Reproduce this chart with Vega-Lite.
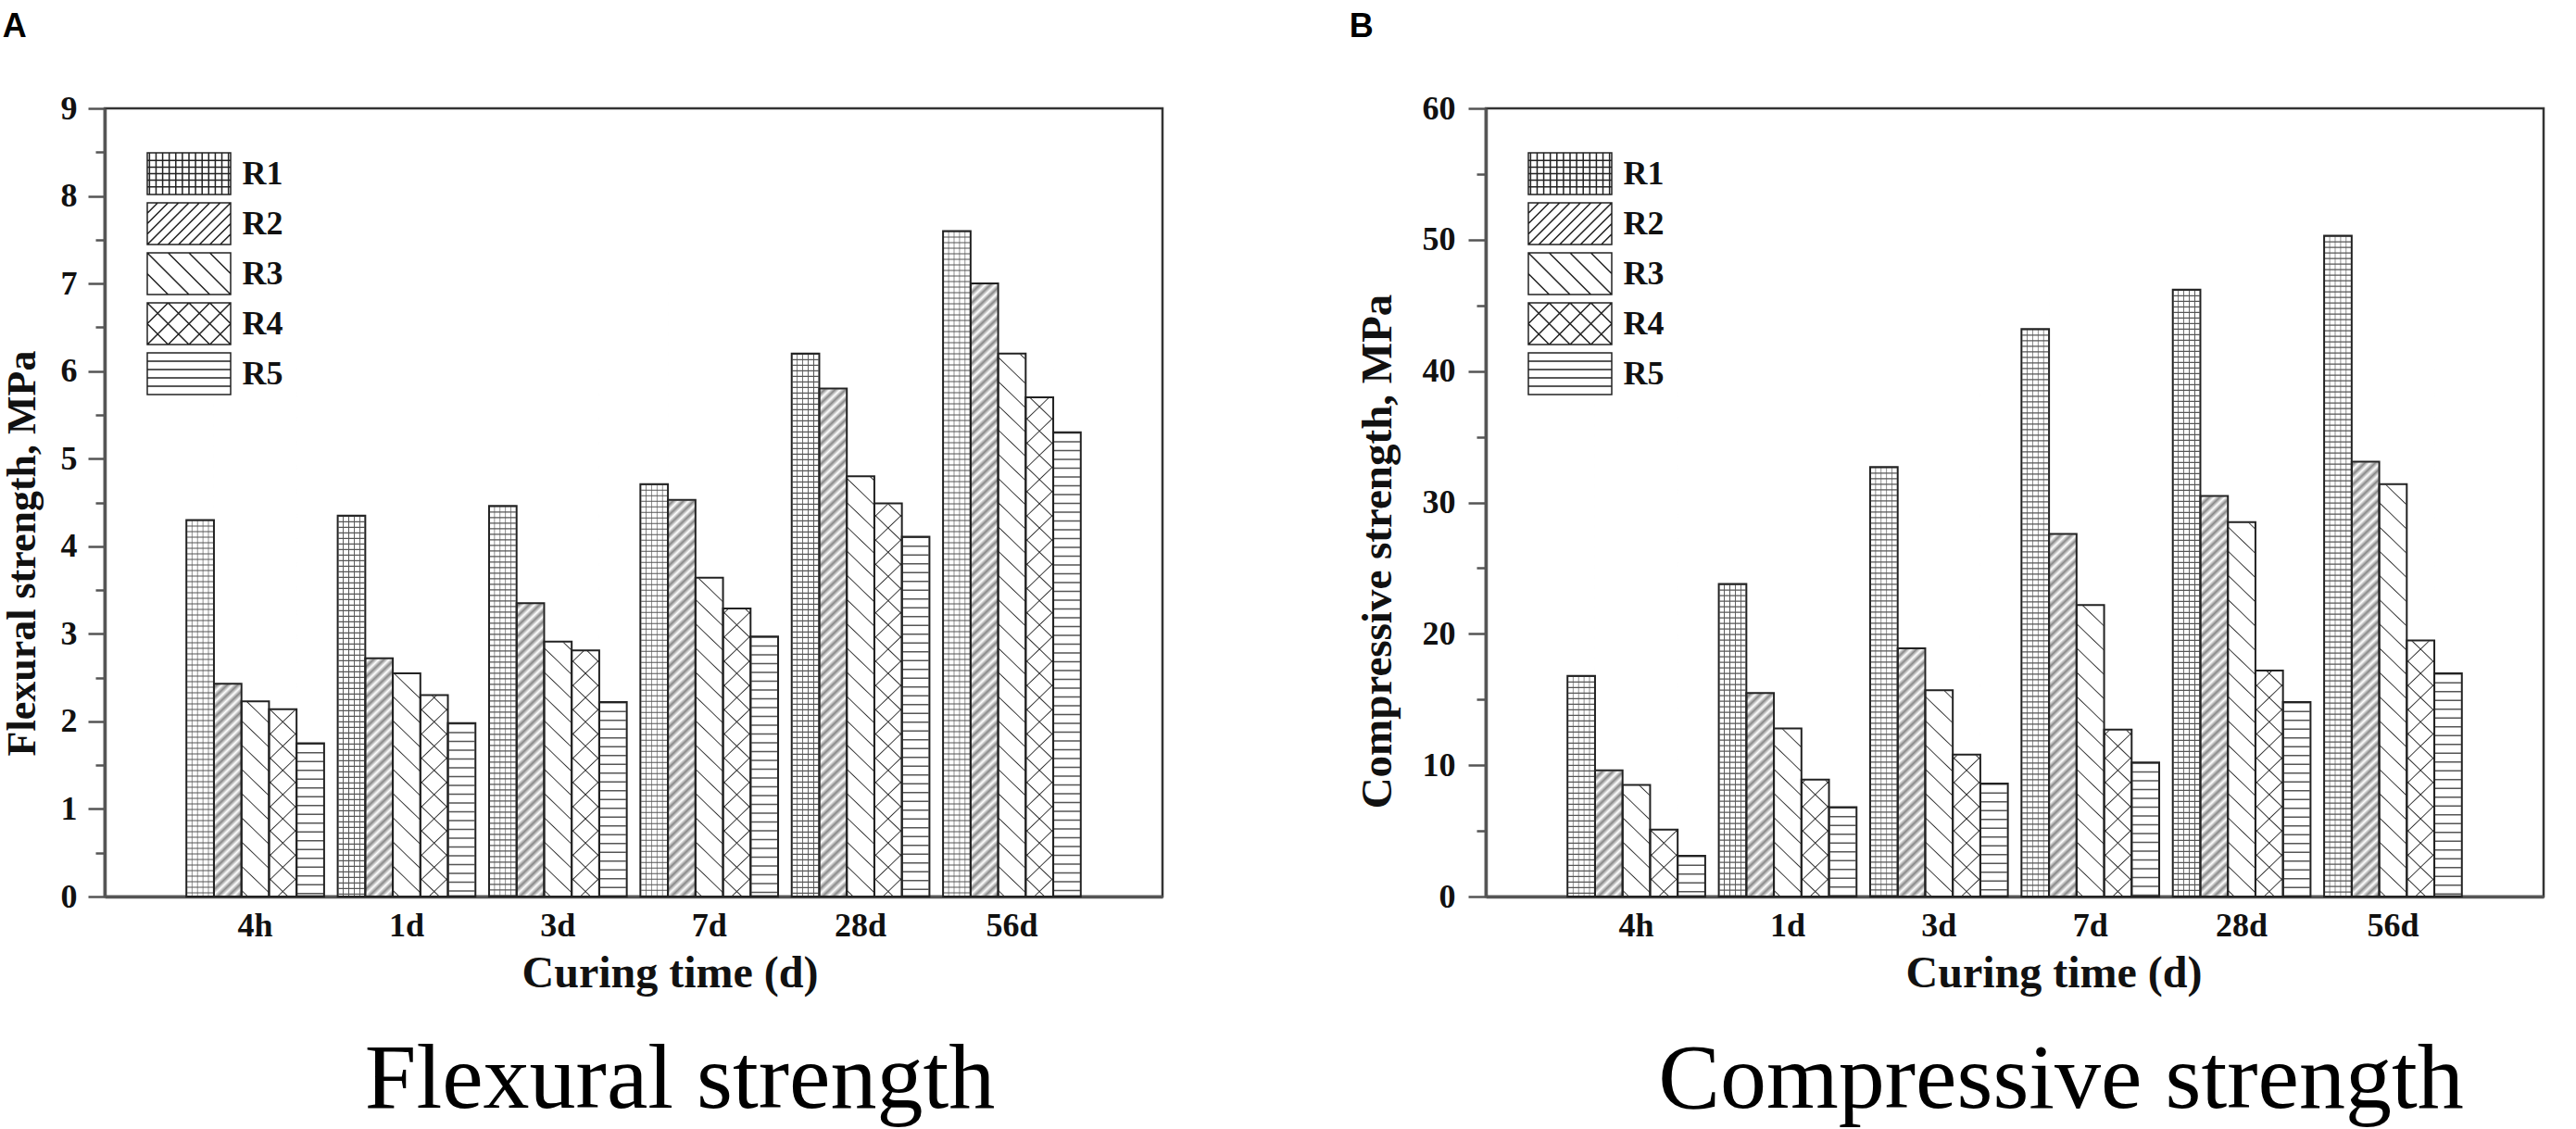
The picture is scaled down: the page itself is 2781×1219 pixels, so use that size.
{
  "$schema": "https://vega.github.io/schema/vega-lite/v6.json",
  "background": "white",
  "padding": {"left": 0, "top": 10, "right": 0, "bottom": 0},
  "config": {
    "font": "Liberation Serif",
    "view": {"stroke": "#333", "strokeWidth": 2.5},
    "axis": {
      "zindex": 1, "grid": false,
      "labelFont": "Liberation Serif", "labelFontWeight": "bold", "labelFontSize": 36, "labelColor": "#111",
      "titleFont": "Liberation Serif", "titleFontWeight": "bold", "titleFontSize": 44, "titleColor": "#111",
      "domainColor": "#555", "domainWidth": 3.5, "tickColor": "#555", "tickWidth": 2.5
    },
    "style": {
      "p1": {"color": {"gradient": "linear", "x1": 0, "y1": 0, "x2": 1, "y2": 0, "stops": [
        {"offset": 0.175, "color": "#fff"}, {"offset": 0.2, "color": "#555"}, {"offset": 0.225, "color": "#fff"},
        {"offset": 0.375, "color": "#fff"}, {"offset": 0.4, "color": "#555"}, {"offset": 0.425, "color": "#fff"},
        {"offset": 0.575, "color": "#fff"}, {"offset": 0.6, "color": "#555"}, {"offset": 0.625, "color": "#fff"},
        {"offset": 0.775, "color": "#fff"}, {"offset": 0.8, "color": "#555"}, {"offset": 0.825, "color": "#fff"}]}},
      "p2": {"color": {"gradient": "linear", "x1": 0, "y1": 0, "x2": 0.0353, "y2": 1.0353, "stops": [
        {"offset": 0.2, "color": "#fff"}, {"offset": 0.20625, "color": "#888"}, {"offset": 0.2125, "color": "#fff"}, {"offset": 0.21875, "color": "#888"},
        {"offset": 0.225, "color": "#fff"}, {"offset": 0.23125, "color": "#888"}, {"offset": 0.2375, "color": "#fff"}, {"offset": 0.24375, "color": "#888"},
        {"offset": 0.25, "color": "#fff"}, {"offset": 0.25625, "color": "#888"}, {"offset": 0.2625, "color": "#fff"}, {"offset": 0.26875, "color": "#888"},
        {"offset": 0.275, "color": "#fff"}, {"offset": 0.28125, "color": "#888"}, {"offset": 0.2875, "color": "#fff"}, {"offset": 0.29375, "color": "#888"},
        {"offset": 0.3, "color": "#fff"}, {"offset": 0.30625, "color": "#888"}, {"offset": 0.3125, "color": "#fff"}, {"offset": 0.31875, "color": "#888"},
        {"offset": 0.325, "color": "#fff"}, {"offset": 0.33125, "color": "#888"}, {"offset": 0.3375, "color": "#fff"}, {"offset": 0.34375, "color": "#888"},
        {"offset": 0.35, "color": "#fff"}, {"offset": 0.35625, "color": "#888"}, {"offset": 0.3625, "color": "#fff"}, {"offset": 0.36875, "color": "#888"},
        {"offset": 0.375, "color": "#fff"}, {"offset": 0.38125, "color": "#888"}, {"offset": 0.3875, "color": "#fff"}, {"offset": 0.39375, "color": "#888"},
        {"offset": 0.4, "color": "#fff"}, {"offset": 0.40625, "color": "#888"}, {"offset": 0.4125, "color": "#fff"}, {"offset": 0.41875, "color": "#888"},
        {"offset": 0.425, "color": "#fff"}, {"offset": 0.43125, "color": "#888"}, {"offset": 0.4375, "color": "#fff"}, {"offset": 0.44375, "color": "#888"},
        {"offset": 0.45, "color": "#fff"}, {"offset": 0.45625, "color": "#888"}, {"offset": 0.4625, "color": "#fff"}, {"offset": 0.46875, "color": "#888"},
        {"offset": 0.475, "color": "#fff"}, {"offset": 0.48125, "color": "#888"}, {"offset": 0.4875, "color": "#fff"}, {"offset": 0.49375, "color": "#888"},
        {"offset": 0.5, "color": "#fff"}, {"offset": 0.50625, "color": "#888"}, {"offset": 0.5125, "color": "#fff"}, {"offset": 0.51875, "color": "#888"},
        {"offset": 0.525, "color": "#fff"}, {"offset": 0.53125, "color": "#888"}, {"offset": 0.5375, "color": "#fff"}, {"offset": 0.54375, "color": "#888"},
        {"offset": 0.55, "color": "#fff"}, {"offset": 0.55625, "color": "#888"}, {"offset": 0.5625, "color": "#fff"}, {"offset": 0.56875, "color": "#888"},
        {"offset": 0.575, "color": "#fff"}, {"offset": 0.58125, "color": "#888"}, {"offset": 0.5875, "color": "#fff"}, {"offset": 0.59375, "color": "#888"},
        {"offset": 0.6, "color": "#fff"}, {"offset": 0.60625, "color": "#888"}, {"offset": 0.6125, "color": "#fff"}, {"offset": 0.61875, "color": "#888"},
        {"offset": 0.625, "color": "#fff"}, {"offset": 0.63125, "color": "#888"}, {"offset": 0.6375, "color": "#fff"}, {"offset": 0.64375, "color": "#888"},
        {"offset": 0.65, "color": "#fff"}, {"offset": 0.65625, "color": "#888"}, {"offset": 0.6625, "color": "#fff"}, {"offset": 0.66875, "color": "#888"},
        {"offset": 0.675, "color": "#fff"}, {"offset": 0.68125, "color": "#888"}, {"offset": 0.6875, "color": "#fff"}, {"offset": 0.69375, "color": "#888"},
        {"offset": 0.7, "color": "#fff"}, {"offset": 0.70625, "color": "#888"}, {"offset": 0.7125, "color": "#fff"}, {"offset": 0.71875, "color": "#888"},
        {"offset": 0.725, "color": "#fff"}, {"offset": 0.73125, "color": "#888"}, {"offset": 0.7375, "color": "#fff"}, {"offset": 0.74375, "color": "#888"},
        {"offset": 0.75, "color": "#fff"}, {"offset": 0.75625, "color": "#888"}, {"offset": 0.7625, "color": "#fff"}, {"offset": 0.76875, "color": "#888"},
        {"offset": 0.775, "color": "#fff"}, {"offset": 0.78125, "color": "#888"}, {"offset": 0.7875, "color": "#fff"}, {"offset": 0.79375, "color": "#888"},
        {"offset": 0.8, "color": "#fff"}, {"offset": 0.80625, "color": "#888"}, {"offset": 0.8125, "color": "#fff"}, {"offset": 0.81875, "color": "#888"},
        {"offset": 0.825, "color": "#fff"}, {"offset": 0.83125, "color": "#888"}, {"offset": 0.8375, "color": "#fff"}, {"offset": 0.84375, "color": "#888"},
        {"offset": 0.85, "color": "#fff"}, {"offset": 0.85625, "color": "#888"}, {"offset": 0.8625, "color": "#fff"}, {"offset": 0.86875, "color": "#888"},
        {"offset": 0.875, "color": "#fff"}, {"offset": 0.88125, "color": "#888"}, {"offset": 0.8875, "color": "#fff"}, {"offset": 0.89375, "color": "#888"},
        {"offset": 0.9, "color": "#fff"}, {"offset": 0.90625, "color": "#888"}, {"offset": 0.9125, "color": "#fff"}, {"offset": 0.91875, "color": "#888"},
        {"offset": 0.925, "color": "#fff"}, {"offset": 0.93125, "color": "#888"}, {"offset": 0.9375, "color": "#fff"}, {"offset": 0.94375, "color": "#888"},
        {"offset": 0.95, "color": "#fff"}, {"offset": 0.95625, "color": "#888"}, {"offset": 0.9625, "color": "#fff"}, {"offset": 0.96875, "color": "#888"},
        {"offset": 0.975, "color": "#fff"}, {"offset": 0.98125, "color": "#888"}, {"offset": 0.9875, "color": "#fff"}, {"offset": 0.99375, "color": "#888"},
        {"offset": 1, "color": "#fff"}]}},
      "p3": {"color": {"gradient": "linear", "x1": 1, "y1": 0, "x2": 0.9647, "y2": 1.0353, "stops": [
        {"offset": 0.2985, "color": "#fff"}, {"offset": 0.3, "color": "#333"}, {"offset": 0.3015, "color": "#fff"},
        {"offset": 0.3285, "color": "#fff"}, {"offset": 0.33, "color": "#333"}, {"offset": 0.3315, "color": "#fff"},
        {"offset": 0.3585, "color": "#fff"}, {"offset": 0.36, "color": "#333"}, {"offset": 0.3615, "color": "#fff"},
        {"offset": 0.3885, "color": "#fff"}, {"offset": 0.39, "color": "#333"}, {"offset": 0.3915, "color": "#fff"},
        {"offset": 0.4185, "color": "#fff"}, {"offset": 0.42, "color": "#333"}, {"offset": 0.4215, "color": "#fff"},
        {"offset": 0.4485, "color": "#fff"}, {"offset": 0.45, "color": "#333"}, {"offset": 0.4515, "color": "#fff"},
        {"offset": 0.4785, "color": "#fff"}, {"offset": 0.48, "color": "#333"}, {"offset": 0.4815, "color": "#fff"},
        {"offset": 0.5085, "color": "#fff"}, {"offset": 0.51, "color": "#333"}, {"offset": 0.5115, "color": "#fff"},
        {"offset": 0.5385, "color": "#fff"}, {"offset": 0.54, "color": "#333"}, {"offset": 0.5415, "color": "#fff"},
        {"offset": 0.5685, "color": "#fff"}, {"offset": 0.57, "color": "#333"}, {"offset": 0.5715, "color": "#fff"},
        {"offset": 0.5985, "color": "#fff"}, {"offset": 0.6, "color": "#333"}, {"offset": 0.6015, "color": "#fff"},
        {"offset": 0.6285, "color": "#fff"}, {"offset": 0.63, "color": "#333"}, {"offset": 0.6315, "color": "#fff"},
        {"offset": 0.6585, "color": "#fff"}, {"offset": 0.66, "color": "#333"}, {"offset": 0.6615, "color": "#fff"},
        {"offset": 0.6885, "color": "#fff"}, {"offset": 0.69, "color": "#333"}, {"offset": 0.6915, "color": "#fff"},
        {"offset": 0.7185, "color": "#fff"}, {"offset": 0.72, "color": "#333"}, {"offset": 0.7215, "color": "#fff"},
        {"offset": 0.7485, "color": "#fff"}, {"offset": 0.75, "color": "#333"}, {"offset": 0.7515, "color": "#fff"},
        {"offset": 0.7785, "color": "#fff"}, {"offset": 0.78, "color": "#333"}, {"offset": 0.7815, "color": "#fff"},
        {"offset": 0.8085, "color": "#fff"}, {"offset": 0.81, "color": "#333"}, {"offset": 0.8115, "color": "#fff"},
        {"offset": 0.8385, "color": "#fff"}, {"offset": 0.84, "color": "#333"}, {"offset": 0.8415, "color": "#fff"},
        {"offset": 0.8685, "color": "#fff"}, {"offset": 0.87, "color": "#333"}, {"offset": 0.8715, "color": "#fff"},
        {"offset": 0.8985, "color": "#fff"}, {"offset": 0.9, "color": "#333"}, {"offset": 0.9015, "color": "#fff"},
        {"offset": 0.9285, "color": "#fff"}, {"offset": 0.93, "color": "#333"}, {"offset": 0.9315, "color": "#fff"},
        {"offset": 0.9585, "color": "#fff"}, {"offset": 0.96, "color": "#333"}, {"offset": 0.9615, "color": "#fff"},
        {"offset": 0.9885, "color": "#fff"}, {"offset": 0.99, "color": "#333"}, {"offset": 0.9915, "color": "#fff"}]}},
      "p4a": {"color": {"gradient": "linear", "x1": 0, "y1": 0, "x2": 0.0353, "y2": 1.0353, "stops": [
        {"offset": 0.3435, "color": "#fff"}, {"offset": 0.345, "color": "#333"}, {"offset": 0.3465, "color": "#fff"},
        {"offset": 0.3735, "color": "#fff"}, {"offset": 0.375, "color": "#333"}, {"offset": 0.3765, "color": "#fff"},
        {"offset": 0.4035, "color": "#fff"}, {"offset": 0.405, "color": "#333"}, {"offset": 0.4065, "color": "#fff"},
        {"offset": 0.4335, "color": "#fff"}, {"offset": 0.435, "color": "#333"}, {"offset": 0.4365, "color": "#fff"},
        {"offset": 0.4635, "color": "#fff"}, {"offset": 0.465, "color": "#333"}, {"offset": 0.4665, "color": "#fff"},
        {"offset": 0.4935, "color": "#fff"}, {"offset": 0.495, "color": "#333"}, {"offset": 0.4965, "color": "#fff"},
        {"offset": 0.5235, "color": "#fff"}, {"offset": 0.525, "color": "#333"}, {"offset": 0.5265, "color": "#fff"},
        {"offset": 0.5535, "color": "#fff"}, {"offset": 0.555, "color": "#333"}, {"offset": 0.5565, "color": "#fff"},
        {"offset": 0.5835, "color": "#fff"}, {"offset": 0.585, "color": "#333"}, {"offset": 0.5865, "color": "#fff"},
        {"offset": 0.6135, "color": "#fff"}, {"offset": 0.615, "color": "#333"}, {"offset": 0.6165, "color": "#fff"},
        {"offset": 0.6435, "color": "#fff"}, {"offset": 0.645, "color": "#333"}, {"offset": 0.6465, "color": "#fff"},
        {"offset": 0.6735, "color": "#fff"}, {"offset": 0.675, "color": "#333"}, {"offset": 0.6765, "color": "#fff"},
        {"offset": 0.7035, "color": "#fff"}, {"offset": 0.705, "color": "#333"}, {"offset": 0.7065, "color": "#fff"},
        {"offset": 0.7335, "color": "#fff"}, {"offset": 0.735, "color": "#333"}, {"offset": 0.7365, "color": "#fff"},
        {"offset": 0.7635, "color": "#fff"}, {"offset": 0.765, "color": "#333"}, {"offset": 0.7665, "color": "#fff"},
        {"offset": 0.7935, "color": "#fff"}, {"offset": 0.795, "color": "#333"}, {"offset": 0.7965, "color": "#fff"},
        {"offset": 0.8235, "color": "#fff"}, {"offset": 0.825, "color": "#333"}, {"offset": 0.8265, "color": "#fff"},
        {"offset": 0.8535, "color": "#fff"}, {"offset": 0.855, "color": "#333"}, {"offset": 0.8565, "color": "#fff"},
        {"offset": 0.8835, "color": "#fff"}, {"offset": 0.885, "color": "#333"}, {"offset": 0.8865, "color": "#fff"},
        {"offset": 0.9135, "color": "#fff"}, {"offset": 0.915, "color": "#333"}, {"offset": 0.9165, "color": "#fff"},
        {"offset": 0.9435, "color": "#fff"}, {"offset": 0.945, "color": "#333"}, {"offset": 0.9465, "color": "#fff"},
        {"offset": 0.9735, "color": "#fff"}, {"offset": 0.975, "color": "#333"}, {"offset": 0.9765, "color": "#fff"}]}},
      "p4b": {"color": {"gradient": "linear", "x1": 1, "y1": 0, "x2": 0.9647, "y2": 1.0353, "stops": [
        {"offset": 0.3435, "color": "transparent"}, {"offset": 0.345, "color": "#333"}, {"offset": 0.3465, "color": "transparent"},
        {"offset": 0.3735, "color": "transparent"}, {"offset": 0.375, "color": "#333"}, {"offset": 0.3765, "color": "transparent"},
        {"offset": 0.4035, "color": "transparent"}, {"offset": 0.405, "color": "#333"}, {"offset": 0.4065, "color": "transparent"},
        {"offset": 0.4335, "color": "transparent"}, {"offset": 0.435, "color": "#333"}, {"offset": 0.4365, "color": "transparent"},
        {"offset": 0.4635, "color": "transparent"}, {"offset": 0.465, "color": "#333"}, {"offset": 0.4665, "color": "transparent"},
        {"offset": 0.4935, "color": "transparent"}, {"offset": 0.495, "color": "#333"}, {"offset": 0.4965, "color": "transparent"},
        {"offset": 0.5235, "color": "transparent"}, {"offset": 0.525, "color": "#333"}, {"offset": 0.5265, "color": "transparent"},
        {"offset": 0.5535, "color": "transparent"}, {"offset": 0.555, "color": "#333"}, {"offset": 0.5565, "color": "transparent"},
        {"offset": 0.5835, "color": "transparent"}, {"offset": 0.585, "color": "#333"}, {"offset": 0.5865, "color": "transparent"},
        {"offset": 0.6135, "color": "transparent"}, {"offset": 0.615, "color": "#333"}, {"offset": 0.6165, "color": "transparent"},
        {"offset": 0.6435, "color": "transparent"}, {"offset": 0.645, "color": "#333"}, {"offset": 0.6465, "color": "transparent"},
        {"offset": 0.6735, "color": "transparent"}, {"offset": 0.675, "color": "#333"}, {"offset": 0.6765, "color": "transparent"},
        {"offset": 0.7035, "color": "transparent"}, {"offset": 0.705, "color": "#333"}, {"offset": 0.7065, "color": "transparent"},
        {"offset": 0.7335, "color": "transparent"}, {"offset": 0.735, "color": "#333"}, {"offset": 0.7365, "color": "transparent"},
        {"offset": 0.7635, "color": "transparent"}, {"offset": 0.765, "color": "#333"}, {"offset": 0.7665, "color": "transparent"},
        {"offset": 0.7935, "color": "transparent"}, {"offset": 0.795, "color": "#333"}, {"offset": 0.7965, "color": "transparent"},
        {"offset": 0.8235, "color": "transparent"}, {"offset": 0.825, "color": "#333"}, {"offset": 0.8265, "color": "transparent"},
        {"offset": 0.8535, "color": "transparent"}, {"offset": 0.855, "color": "#333"}, {"offset": 0.8565, "color": "transparent"},
        {"offset": 0.8835, "color": "transparent"}, {"offset": 0.885, "color": "#333"}, {"offset": 0.8865, "color": "transparent"},
        {"offset": 0.9135, "color": "transparent"}, {"offset": 0.915, "color": "#333"}, {"offset": 0.9165, "color": "transparent"},
        {"offset": 0.9435, "color": "transparent"}, {"offset": 0.945, "color": "#333"}, {"offset": 0.9465, "color": "transparent"},
        {"offset": 0.9735, "color": "transparent"}, {"offset": 0.975, "color": "#333"}, {"offset": 0.9765, "color": "transparent"}]}}
    }
  },
  "datasets": {
    "flex": [
      {"t": "4h", "s": "R1", "v": 4.3}, {"t": "4h", "s": "R2", "v": 2.43}, {"t": "4h", "s": "R3", "v": 2.23}, {"t": "4h", "s": "R4", "v": 2.14}, {"t": "4h", "s": "R5", "v": 1.75},
      {"t": "1d", "s": "R1", "v": 4.35}, {"t": "1d", "s": "R2", "v": 2.72}, {"t": "1d", "s": "R3", "v": 2.55}, {"t": "1d", "s": "R4", "v": 2.3}, {"t": "1d", "s": "R5", "v": 1.98},
      {"t": "3d", "s": "R1", "v": 4.46}, {"t": "3d", "s": "R2", "v": 3.35}, {"t": "3d", "s": "R3", "v": 2.91}, {"t": "3d", "s": "R4", "v": 2.81}, {"t": "3d", "s": "R5", "v": 2.22},
      {"t": "7d", "s": "R1", "v": 4.71}, {"t": "7d", "s": "R2", "v": 4.53}, {"t": "7d", "s": "R3", "v": 3.64}, {"t": "7d", "s": "R4", "v": 3.29}, {"t": "7d", "s": "R5", "v": 2.97},
      {"t": "28d", "s": "R1", "v": 6.2}, {"t": "28d", "s": "R2", "v": 5.8}, {"t": "28d", "s": "R3", "v": 4.8}, {"t": "28d", "s": "R4", "v": 4.49}, {"t": "28d", "s": "R5", "v": 4.11},
      {"t": "56d", "s": "R1", "v": 7.6}, {"t": "56d", "s": "R2", "v": 7.0}, {"t": "56d", "s": "R3", "v": 6.2}, {"t": "56d", "s": "R4", "v": 5.7}, {"t": "56d", "s": "R5", "v": 5.3}
    ],
    "comp": [
      {"t": "4h", "s": "R1", "v": 16.8}, {"t": "4h", "s": "R2", "v": 9.6}, {"t": "4h", "s": "R3", "v": 8.5}, {"t": "4h", "s": "R4", "v": 5.1}, {"t": "4h", "s": "R5", "v": 3.1},
      {"t": "1d", "s": "R1", "v": 23.8}, {"t": "1d", "s": "R2", "v": 15.5}, {"t": "1d", "s": "R3", "v": 12.8}, {"t": "1d", "s": "R4", "v": 8.9}, {"t": "1d", "s": "R5", "v": 6.8},
      {"t": "3d", "s": "R1", "v": 32.7}, {"t": "3d", "s": "R2", "v": 18.9}, {"t": "3d", "s": "R3", "v": 15.7}, {"t": "3d", "s": "R4", "v": 10.8}, {"t": "3d", "s": "R5", "v": 8.6},
      {"t": "7d", "s": "R1", "v": 43.2}, {"t": "7d", "s": "R2", "v": 27.6}, {"t": "7d", "s": "R3", "v": 22.2}, {"t": "7d", "s": "R4", "v": 12.7}, {"t": "7d", "s": "R5", "v": 10.2},
      {"t": "28d", "s": "R1", "v": 46.2}, {"t": "28d", "s": "R2", "v": 30.5}, {"t": "28d", "s": "R3", "v": 28.5}, {"t": "28d", "s": "R4", "v": 17.2}, {"t": "28d", "s": "R5", "v": 14.8},
      {"t": "56d", "s": "R1", "v": 50.3}, {"t": "56d", "s": "R2", "v": 33.1}, {"t": "56d", "s": "R3", "v": 31.4}, {"t": "56d", "s": "R4", "v": 19.5}, {"t": "56d", "s": "R5", "v": 17.0}
    ]
  },
  "spacing": 199,
  "resolve": {"scale": {"shape": "independent", "xOffset": "independent"}, "legend": {"shape": "independent"}},
  "hconcat": [
    {
      "title": {"text": "A", "anchor": "start", "frame": "bounds", "font": "Liberation Sans", "fontWeight": "bold", "fontSize": 36, "color": "#000", "offset": 50, "dx": 2},
      "resolve": {"scale": {"shape": "independent"}, "legend": {"shape": "independent"}},
      "vconcat": [
        {
          "width": 1142,
          "height": 851,
          "data": {"name": "flex"},
          "title": {"text": "Flexural strength", "orient": "bottom", "anchor": "middle", "frame": "group", "dx": 50, "offset": 42, "font": "Liberation Serif", "fontWeight": "normal", "fontSize": 100, "color": "#000"},
          "encoding": {
            "x": {"field": "t", "type": "nominal", "scale": {"domain": ["4h", "1d", "3d", "7d", "28d", "56d"], "paddingInner": 0.09, "paddingOuter": 0.54},
                  "axis": {"title": "Curing time (d)", "titleFontSize": 48, "titleX": 610, "labelAngle": 0, "ticks": false, "tickSize": 0, "labelPadding": 14, "titlePadding": 10}},
            "xOffset": {"field": "s", "type": "nominal", "scale": {"domain": ["R1", "R2", "R3", "R4", "R5"], "paddingInner": 0, "paddingOuter": 0}},
            "y": {"field": "v", "type": "quantitative", "scale": {"domain": [0, 9], "nice": false},
                  "axis": {"title": "Flexural strength, MPa", "values": [0, 0.5, 1, 1.5, 2, 2.5, 3, 3.5, 4, 4.5, 5, 5.5, 6, 6.5, 7, 7.5, 8, 8.5, 9],
                           "labelExpr": "datum.value % 1 === 0 ? format(datum.value, 'd') : ''",
                           "tickSize": {"condition": {"test": "datum.value % 1 === 0", "value": 18}, "value": 10},
                           "labelPadding": 12, "titlePadding": 19, "titleY": 480}}
          },
          "layer": [
            {"transform": [{"filter": "datum.s === 'R2'"}], "mark": {"type": "bar", "orient": "vertical", "style": "p2"}, "encoding": {"y": {"datum": 8.9}, "y2": {"datum": 0}}},
            {"transform": [{"filter": "datum.s === 'R3'"}], "mark": {"type": "bar", "orient": "vertical", "style": "p3"}, "encoding": {"y": {"datum": 8.9}, "y2": {"datum": 0}}},
            {"transform": [{"filter": "datum.s === 'R4'"}], "mark": {"type": "bar", "orient": "vertical", "style": "p4a"}, "encoding": {"y": {"datum": 8.9}, "y2": {"datum": 0}}},
            {"transform": [{"filter": "datum.s === 'R4'"}], "mark": {"type": "bar", "orient": "vertical", "style": "p4b"}, "encoding": {"y": {"datum": 8.9}, "y2": {"datum": 0}}},
            {"transform": [{"filter": "datum.s === 'R2' || datum.s === 'R3' || datum.s === 'R4'"}], "mark": {"type": "bar", "orient": "vertical", "fill": "white", "stroke": "white", "strokeWidth": 1.5}, "encoding": {"y2": {"datum": 8.9}}},
            {"transform": [{"filter": "datum.s === 'R1'"}], "mark": {"type": "bar", "orient": "vertical", "style": "p1"}},
            {"transform": [{"filter": "datum.s === 'R1'"}], "mark": {"type": "rule", "stroke": "#555", "strokeWidth": 28, "strokeDash": [1.2, 4.8], "strokeCap": "butt"}, "encoding": {"y2": {"datum": 0}}},
            {"transform": [{"filter": "datum.s === 'R5'"}], "mark": {"type": "rule", "stroke": "#555", "strokeWidth": 28, "strokeDash": [1.5, 8], "strokeCap": "butt"}, "encoding": {"y2": {"datum": 0}}},
            {"mark": {"type": "bar", "orient": "vertical", "fill": "transparent", "stroke": "#222", "strokeWidth": 2}},
            {"transform": [{"filter": "datum.v < 0"}], "mark": {"type": "point", "filled": false, "color": "#222", "strokeWidth": 1.5, "size": 2244, "opacity": 1},
             "encoding": {"shape": {"field": "s", "type": "nominal",
               "scale": {"domain": ["R1", "R2", "R3", "R4", "R5"], "range": [
                 "M-1.9,-0.95H1.9V0.95H-1.9ZM-1.8,-0.95V0.95M-1.5,-0.95V0.95M-1.2,-0.95V0.95M-0.9,-0.95V0.95M-0.6,-0.95V0.95M-0.3,-0.95V0.95M0,-0.95V0.95M0.3,-0.95V0.95M0.6,-0.95V0.95M0.9,-0.95V0.95M1.2,-0.95V0.95M1.5,-0.95V0.95M1.8,-0.95V0.95M-1.9,-0.6H1.9M-1.9,-0.3H1.9M-1.9,0H1.9M-1.9,0.3H1.9M-1.9,0.6H1.9",
                 "M-1.9,-0.95H1.9V0.95H-1.9ZM-1.9,-0.475L-1.425,-0.95M-1.9,0L-0.95,-0.95M-1.9,0.475L-0.475,-0.95M-1.9,0.95L0,-0.95M-1.425,0.95L0.475,-0.95M-0.95,0.95L0.95,-0.95M-0.475,0.95L1.425,-0.95M0,0.95L1.9,-0.95M0.475,0.95L1.9,-0.475M0.95,0.95L1.9,0M1.425,0.95L1.9,0.475",
                 "M-1.9,-0.95H1.9V0.95H-1.9ZM-1.9,0L-0.95,0.95M-1.9,-0.95L0,0.95M-0.95,-0.95L0.95,0.95M0,-0.95L1.9,0.95M0.95,-0.95L1.9,0",
                 "M-1.9,-0.95H1.9V0.95H-1.9ZM-1.9,0L-0.95,-0.95M-1.9,0.95L0,-0.95M-0.95,0.95L0.95,-0.95M0,0.95L1.9,-0.95M0.95,0.95L1.9,0M-1.9,0L-0.95,0.95M-1.9,-0.95L0,0.95M-0.95,-0.95L0.95,0.95M0,-0.95L1.9,0.95M0.95,-0.95L1.9,0",
                 "M-1.9,-0.95H1.9V0.95H-1.9ZM-1.9,-0.57H1.9M-1.9,-0.19H1.9M-1.9,0.19H1.9M-1.9,0.57H1.9"]},
               "legend": {"title": null, "orient": "top-left", "offset": 46, "padding": 0, "rowPadding": 1, "symbolOffset": 20.5, "labelOffset": 33,
                          "labelFont": "Liberation Serif", "labelFontWeight": "bold", "labelFontSize": 36, "labelColor": "#111", "labelBaseline": "middle",
                          "symbolSize": 2244, "symbolStrokeWidth": 1.5, "symbolStrokeColor": "#222", "symbolFillColor": "white"}}}}
          ]
        }
      ]
    },
    {
      "title": {"text": "B", "anchor": "start", "frame": "bounds", "font": "Liberation Sans", "fontWeight": "bold", "fontSize": 36, "color": "#000", "offset": 50, "dx": -5},
      "resolve": {"scale": {"shape": "independent"}, "legend": {"shape": "independent"}},
      "vconcat": [
        {
          "width": 1142,
          "height": 851,
          "data": {"name": "comp"},
          "title": {"text": "Compressive strength", "orient": "bottom", "anchor": "middle", "frame": "group", "dx": 50, "offset": 42, "font": "Liberation Serif", "fontWeight": "normal", "fontSize": 100, "color": "#000"},
          "encoding": {
            "x": {"field": "t", "type": "nominal", "scale": {"domain": ["4h", "1d", "3d", "7d", "28d", "56d"], "paddingInner": 0.09, "paddingOuter": 0.54},
                  "axis": {"title": "Curing time (d)", "titleFontSize": 48, "titleX": 613, "labelAngle": 0, "ticks": false, "tickSize": 0, "labelPadding": 14, "titlePadding": 10}},
            "xOffset": {"field": "s", "type": "nominal", "scale": {"domain": ["R1", "R2", "R3", "R4", "R5"], "paddingInner": 0, "paddingOuter": 0}},
            "y": {"field": "v", "type": "quantitative", "scale": {"domain": [0, 60], "nice": false},
                  "axis": {"title": "Compressive strength, MPa", "titleFontSize": 47, "values": [0, 5, 10, 15, 20, 25, 30, 35, 40, 45, 50, 55, 60],
                           "labelExpr": "datum.value % 10 === 0 ? format(datum.value, 'd') : ''",
                           "tickSize": {"condition": {"test": "datum.value % 10 === 0", "value": 19}, "value": 10},
                           "labelPadding": 14, "titlePadding": 24, "titleY": 478}}
          },
          "layer": [
            {"transform": [{"filter": "datum.s === 'R2'"}], "mark": {"type": "bar", "orient": "vertical", "style": "p2"}, "encoding": {"y": {"datum": 59.33}, "y2": {"datum": 0}}},
            {"transform": [{"filter": "datum.s === 'R3'"}], "mark": {"type": "bar", "orient": "vertical", "style": "p3"}, "encoding": {"y": {"datum": 59.33}, "y2": {"datum": 0}}},
            {"transform": [{"filter": "datum.s === 'R4'"}], "mark": {"type": "bar", "orient": "vertical", "style": "p4a"}, "encoding": {"y": {"datum": 59.33}, "y2": {"datum": 0}}},
            {"transform": [{"filter": "datum.s === 'R4'"}], "mark": {"type": "bar", "orient": "vertical", "style": "p4b"}, "encoding": {"y": {"datum": 59.33}, "y2": {"datum": 0}}},
            {"transform": [{"filter": "datum.s === 'R2' || datum.s === 'R3' || datum.s === 'R4'"}], "mark": {"type": "bar", "orient": "vertical", "fill": "white", "stroke": "white", "strokeWidth": 1.5}, "encoding": {"y2": {"datum": 59.33}}},
            {"transform": [{"filter": "datum.s === 'R1'"}], "mark": {"type": "bar", "orient": "vertical", "style": "p1"}},
            {"transform": [{"filter": "datum.s === 'R1'"}], "mark": {"type": "rule", "stroke": "#555", "strokeWidth": 28, "strokeDash": [1.2, 4.8], "strokeCap": "butt"}, "encoding": {"y2": {"datum": 0}}},
            {"transform": [{"filter": "datum.s === 'R5'"}], "mark": {"type": "rule", "stroke": "#555", "strokeWidth": 28, "strokeDash": [1.5, 8], "strokeCap": "butt"}, "encoding": {"y2": {"datum": 0}}},
            {"mark": {"type": "bar", "orient": "vertical", "fill": "transparent", "stroke": "#222", "strokeWidth": 2}},
            {"transform": [{"filter": "datum.v < 0"}], "mark": {"type": "point", "filled": false, "color": "#222", "strokeWidth": 1.5, "size": 2244, "opacity": 1},
             "encoding": {"shape": {"field": "s", "type": "nominal",
               "scale": {"domain": ["R1", "R2", "R3", "R4", "R5"], "range": [
                 "M-1.9,-0.95H1.9V0.95H-1.9ZM-1.8,-0.95V0.95M-1.5,-0.95V0.95M-1.2,-0.95V0.95M-0.9,-0.95V0.95M-0.6,-0.95V0.95M-0.3,-0.95V0.95M0,-0.95V0.95M0.3,-0.95V0.95M0.6,-0.95V0.95M0.9,-0.95V0.95M1.2,-0.95V0.95M1.5,-0.95V0.95M1.8,-0.95V0.95M-1.9,-0.6H1.9M-1.9,-0.3H1.9M-1.9,0H1.9M-1.9,0.3H1.9M-1.9,0.6H1.9",
                 "M-1.9,-0.95H1.9V0.95H-1.9ZM-1.9,-0.475L-1.425,-0.95M-1.9,0L-0.95,-0.95M-1.9,0.475L-0.475,-0.95M-1.9,0.95L0,-0.95M-1.425,0.95L0.475,-0.95M-0.95,0.95L0.95,-0.95M-0.475,0.95L1.425,-0.95M0,0.95L1.9,-0.95M0.475,0.95L1.9,-0.475M0.95,0.95L1.9,0M1.425,0.95L1.9,0.475",
                 "M-1.9,-0.95H1.9V0.95H-1.9ZM-1.9,0L-0.95,0.95M-1.9,-0.95L0,0.95M-0.95,-0.95L0.95,0.95M0,-0.95L1.9,0.95M0.95,-0.95L1.9,0",
                 "M-1.9,-0.95H1.9V0.95H-1.9ZM-1.9,0L-0.95,-0.95M-1.9,0.95L0,-0.95M-0.95,0.95L0.95,-0.95M0,0.95L1.9,-0.95M0.95,0.95L1.9,0M-1.9,0L-0.95,0.95M-1.9,-0.95L0,0.95M-0.95,-0.95L0.95,0.95M0,-0.95L1.9,0.95M0.95,-0.95L1.9,0",
                 "M-1.9,-0.95H1.9V0.95H-1.9ZM-1.9,-0.57H1.9M-1.9,-0.19H1.9M-1.9,0.19H1.9M-1.9,0.57H1.9"]},
               "legend": {"title": null, "orient": "top-left", "offset": 46, "padding": 0, "rowPadding": 1, "symbolOffset": 20.5, "labelOffset": 33,
                          "labelFont": "Liberation Serif", "labelFontWeight": "bold", "labelFontSize": 36, "labelColor": "#111", "labelBaseline": "middle",
                          "symbolSize": 2244, "symbolStrokeWidth": 1.5, "symbolStrokeColor": "#222", "symbolFillColor": "white"}}}}
          ]
        }
      ]
    }
  ]
}
